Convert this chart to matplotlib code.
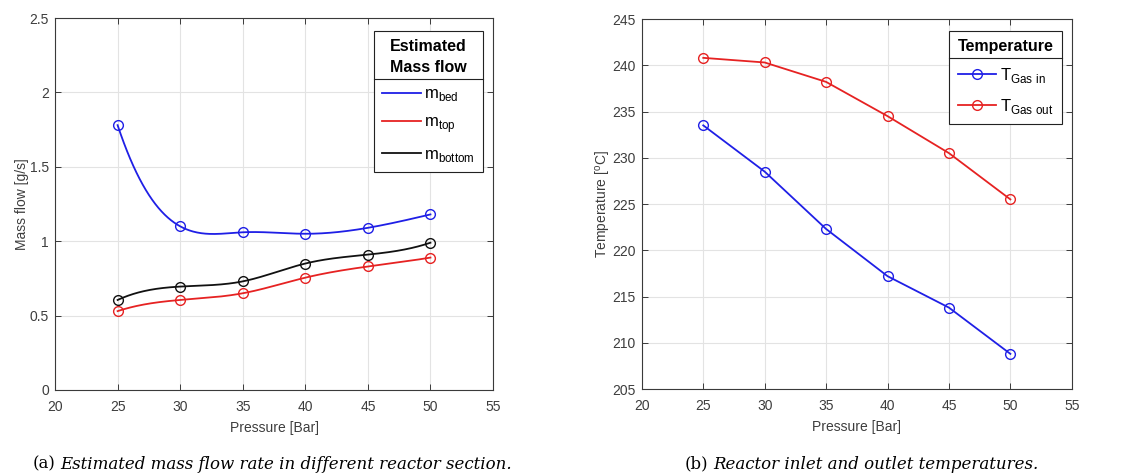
import numpy as np
import matplotlib
matplotlib.use("Agg")
import matplotlib.pyplot as plt
from matplotlib.lines import Line2D

plt.rcParams['font.family'] = ['Liberation Sans', 'DejaVu Sans']
plt.rcParams['mathtext.fontset'] = 'custom'
plt.rcParams['mathtext.rm'] = 'Liberation Sans'

# Pressure levels [Bar]
pressure = [25, 30, 35, 40, 45, 50]

# Estimated mass flow [g/s]
m_bed = [1.78, 1.10, 1.06, 1.05, 1.09, 1.18]
m_top = [0.53, 0.605, 0.65, 0.755, 0.83, 0.89]
m_bottom = [0.605, 0.695, 0.73, 0.85, 0.91, 0.99]

# Reactor gas temperatures [°C]
t_gas_in = [233.5, 228.5, 222.3, 217.2, 213.8, 208.8]
t_gas_out = [240.8, 240.3, 238.2, 234.5, 230.5, 225.5]

xticks = [20, 25, 30, 35, 40, 45, 50, 55]
mass_ticks = [0, 0.5, 1, 1.5, 2, 2.5]
temp_ticks = [205, 210, 215, 220, 225, 230, 235, 240, 245]

BLUE = '#1f1fe6'
RED = '#e62222'
BLACK = '#111111'
AX_COLOR = '#3a3a3a'
TICK_COLOR = '#3d3d3d'


def spline_curve(x, y, num=300):
    """Not-a-knot cubic spline through (x, y), evaluated on a fine grid."""
    x = np.asarray(x, float)
    y = np.asarray(y, float)
    n = len(x)
    h = np.diff(x)
    A = np.zeros((n, n))
    b = np.zeros(n)
    for i in range(1, n - 1):
        A[i, i - 1] = h[i - 1]
        A[i, i] = 2 * (h[i - 1] + h[i])
        A[i, i + 1] = h[i]
        b[i] = 6 * ((y[i + 1] - y[i]) / h[i] - (y[i] - y[i - 1]) / h[i - 1])
    A[0, 0] = -1 / h[0]
    A[0, 1] = 1 / h[0] + 1 / h[1]
    A[0, 2] = -1 / h[1]
    A[-1, -3] = -1 / h[-2]
    A[-1, -2] = 1 / h[-2] + 1 / h[-1]
    A[-1, -1] = -1 / h[-1]
    M = np.linalg.solve(A, b)
    xs = np.linspace(x[0], x[-1], num)
    idx = np.clip(np.searchsorted(x, xs) - 1, 0, n - 2)
    x0, x1 = x[idx], x[idx + 1]
    hh = x1 - x0
    ys = (M[idx] * (x1 - xs) ** 3 / (6 * hh) + M[idx + 1] * (xs - x0) ** 3 / (6 * hh)
          + (y[idx] / hh - M[idx] * hh / 6) * (x1 - xs)
          + (y[idx + 1] / hh - M[idx + 1] * hh / 6) * (xs - x0))
    return xs, ys


def style_axes(ax, yticks):
    ax.set_xlim(20, 55)
    ax.set_xticks(xticks)
    ax.set_ylim(yticks[0], yticks[-1])
    ax.set_yticks(yticks)
    ax.set_yticklabels([f'{t:g}' for t in yticks])
    ax.grid(True, color='#e3e3e3', linewidth=0.8)
    ax.set_axisbelow(True)
    for s in ax.spines.values():
        s.set_color(AX_COLOR)
        s.set_linewidth(0.8)
    ax.tick_params(direction='in', top=True, right=True, length=4,
                   width=0.7, color=AX_COLOR, labelsize=10,
                   labelcolor=TICK_COLOR)
    ax.tick_params(axis='x', pad=7)
    ax.tick_params(axis='y', pad=4.5)
    ax.set_xlabel('Pressure [Bar]', fontsize=10, color=TICK_COLOR, labelpad=5)


def make_legend(ax, handles, title, anchor):
    leg = ax.legend(handles=handles, loc='upper right', bbox_to_anchor=anchor,
                    title=title, fancybox=False, edgecolor='#222222',
                    framealpha=1, fontsize=12, handlelength=2.3, handletextpad=0.2,
                    borderpad=0.5, labelspacing=0.7, borderaxespad=0)
    t = leg.get_title()
    t.set_fontweight('bold')
    t.set_fontsize(11.5)
    t.set_multialignment('center')
    t.set_linespacing(1.45)
    leg.get_frame().set_linewidth(0.8)
    return leg


def add_divider(fig, leg):
    fig.canvas.draw()
    frame = leg.get_frame().get_window_extent()
    title = leg.get_title().get_window_extent()
    y = title.y0 - 4
    inv = fig.transFigure.inverted()
    (x0, yy), (x1, _) = inv.transform([(frame.x0, y), (frame.x1, y)])
    fig.add_artist(Line2D([x0, x1], [yy, yy], color='#222222', linewidth=0.8))


def caption(fig, x, tag, text):
    fig.canvas.draw()
    r = fig.canvas.get_renderer()
    t = fig.text(x, 0.013, tag, fontsize=12, family='DejaVu Serif', va='baseline')
    ext = t.get_window_extent(renderer=r)
    x2 = fig.transFigure.inverted().transform((ext.x1 + 5, 0))[0]
    fig.text(x2, 0.013, text, fontsize=12, family='DejaVu Serif',
             style='italic', va='baseline')


fig = plt.figure(figsize=(11.3, 4.75), dpi=100)
ax1 = fig.add_axes([0.0487, 0.179, 0.3876, 0.783])
ax2 = fig.add_axes([0.568, 0.181, 0.3805, 0.779])

# (a) mass flow: smooth spline through the estimates, circles at each estimate
series = [(m_bed, BLUE, r'm$_\mathregular{bed}$'),
          (m_top, RED, r'm$_\mathregular{top}$'),
          (m_bottom, BLACK, r'm$_\mathregular{bottom}$')]
handles = []
for vals, col, lab in series:
    xs, ys = spline_curve(pressure, vals)
    ln, = ax1.plot(xs, ys, color=col, linewidth=1.3, label=lab)
    ax1.plot(pressure, vals, linestyle='none', marker='o', markersize=7,
             markerfacecolor='none', markeredgecolor=col, markeredgewidth=1.0)
    handles.append(ln)
style_axes(ax1, mass_ticks)
ax1.set_ylabel('Mass flow [g/s]', fontsize=10, color=TICK_COLOR, labelpad=0.5)
leg1 = make_legend(ax1, handles, 'Estimated\nMass flow', (0.977, 0.965))

# (b) temperatures
h_in, = ax2.plot(pressure, t_gas_in, color=BLUE, linewidth=1.3, marker='o', markersize=7,
                 markerfacecolor='none', markeredgewidth=1.0,
                 label=r'T$_\mathregular{Gas\ in}$')
h_out, = ax2.plot(pressure, t_gas_out, color=RED, linewidth=1.3, marker='o', markersize=7,
                  markerfacecolor='none', markeredgewidth=1.0,
                  label=r'T$_\mathregular{Gas\ out}$')
style_axes(ax2, temp_ticks)
ax2.set_ylabel(r'Temperature [$^\mathregular{o}$C]', fontsize=10, color=TICK_COLOR,
               labelpad=-1)
leg2 = make_legend(ax2, [h_in, h_out], 'Temperature', (0.977, 0.968))

add_divider(fig, leg1)
add_divider(fig, leg2)

# captions
caption(fig, 0.029, '(a)', 'Estimated mass flow rate in different reactor section.')
caption(fig, 0.606, '(b)', 'Reactor inlet and outlet temperatures.')

fig.savefig('out.png', dpi=100, facecolor='white')
